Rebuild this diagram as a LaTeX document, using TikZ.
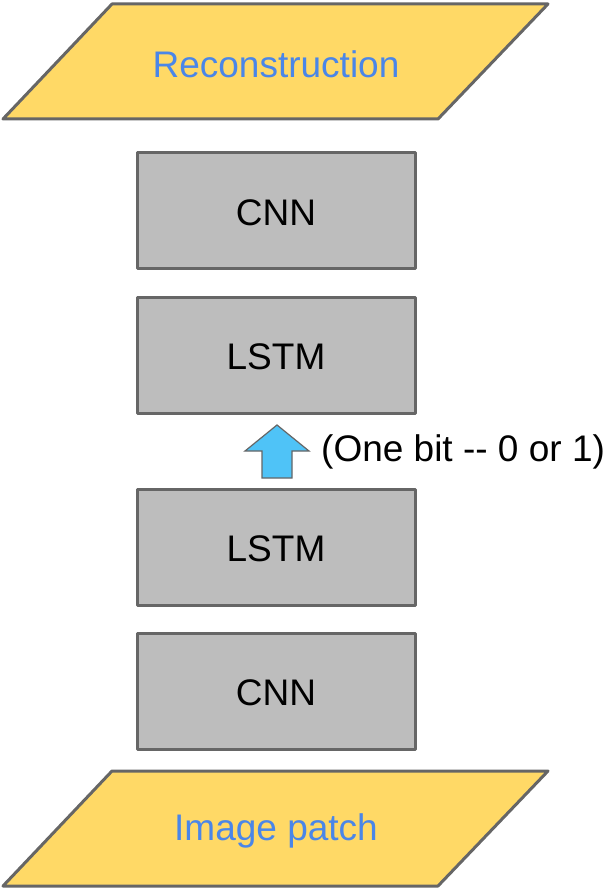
\documentclass[tikz,border=0pt]{standalone}
\usepackage{fontspec}
\setmainfont{Liberation Sans}
\begin{document}
\begin{tikzpicture}[x=1pt,y=-1pt,
  outline/.style={draw=linegray,line width=3pt,line join=round},
  io/.style={outline,fill=ioyellow},
  layer/.style={outline,fill=layergray},
  iotext/.style={text=textblue,font=\fontsize{37}{40}\selectfont,inner sep=0pt},
  layertext/.style={text=black,font=\fontsize{37}{40}\selectfont,inner sep=0pt},
  bitarrow/.style={draw=linegray,line width=1.2pt,fill=arrowblue,line join=miter}]
\definecolor{linegray}{HTML}{666666}
\definecolor{ioyellow}{HTML}{FFD966}
\definecolor{layergray}{HTML}{BDBDBD}
\definecolor{textblue}{HTML}{4A86E8}
\definecolor{arrowblue}{HTML}{4FC3F7}
\useasboundingbox (0,0) rectangle (612,890);

% output parallelogram
\draw[io] (112,4) -- (548,4) -- (438,119) -- (3,119) -- cycle;
\node[iotext] (recon) at (276,64) {Reconstruction};

% decoder layers
\draw[layer] (137,153) rectangle (415,269);
\node[layertext] (cnntop) at (276,213) {CNN};
\draw[layer] (137,297) rectangle (415,413);
\node[layertext] (lstmtop) at (276,357) {LSTM};

% one-bit channel arrow
\draw[bitarrow] (277,425) -- (309,451) -- (292,451) -- (292,478)
  -- (262,478) -- (262,451) -- (245,451) -- cycle;
\node[layertext,anchor=west] (bitlabel) at (321,452) {(One bit -{}- 0 or 1)};

% encoder layers
\draw[layer] (137,489) rectangle (415,605);
\node[layertext] (lstmbot) at (276,549) {LSTM};
\draw[layer] (137,633) rectangle (415,749);
\node[layertext] (cnnbot) at (276,693) {CNN};

% input parallelogram
\draw[io] (112,771) -- (548,771) -- (438,886) -- (3,886) -- cycle;
\node[iotext] (patch) at (276,831) {Image patch};
\end{tikzpicture}
\end{document}
